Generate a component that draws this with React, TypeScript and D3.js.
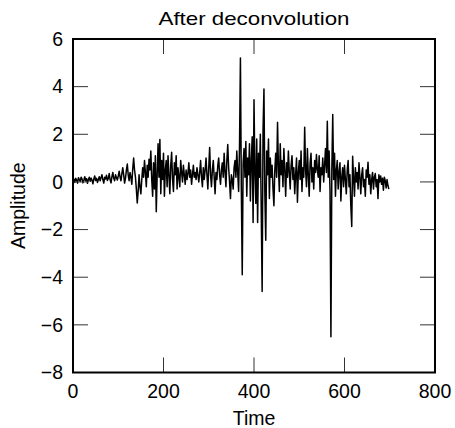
import React from "react";
import * as d3 from "d3";

const title = "After deconvolution";
const xLabel = "Time";
const yLabel = "Amplitude";
const xTicks = [0, 200, 400, 600, 800];
const yTicks = [-8, -6, -4, -2, 0, 2, 4, 6];
const timeStep = 2;
const amplitude: number[] = [
  0.05, 0.12, -0.02, 0.15, 0.08, -0.05, 0.18, 0.1, 0.02, 0.2,
  0.12, -0.04, 0.08, 0.22, 0.05, 0.14, -0.06, 0.1, 0.2, 0.03,
  0.16, 0.08, -0.08, 0.12, 0.25, 0.06, 0.15, -0.02, 0.1, 0.22,
  0.05, 0.18, 0.3, 0.1, -0.05, 0.2, 0.12, 0.28, 0.06, 0.15,
  0.35, 0.1, -0.04, 0.22, 0.4, 0.15, 0.05, 0.3, 0.18, 0.08,
  0.25, 0.45, 0.2, 0.05, 0.35, 0.6, 0.3, -0.05, 0.15, 0.5,
  0.75, 0.3, 0.05, 0.4, 0.2, -0.1, 0.55, 1.0, 0.5, 0.2,
  -0.3, -0.88, -0.4, 0.3, -0.2, -0.5, 0.1, 0.6, 0.2, 0.9,
  0.4, -0.2, 0.7, 0.2, 0.95, 0.5, 1.3, 0.1, -0.6, 0.8,
  -0.3, 1.1, -1.25, 0.3, 1.6, 0.2, 1.78, -0.5, 0.9, 0.1,
  1.2, -0.6, 0.5, 0.9, -0.2, 1.1, 0.3, -0.5, 0.7, 1.25,
  0.1, -0.4, 0.8, 0.3, 1.1, -0.3, 0.6, 0.2, -0.2, 0.9,
  0.4, 0.0, 0.7, 0.3, -0.1, 0.5, 0.1, 0.35, 0.8, 0.2,
  0.5, -0.1, 0.3, 0.7, 0.2, 0.4, 0.1, 0.6, 0.3, 0.0,
  0.4, 0.9, 0.2, -0.2, 0.6, 0.1, 0.5, 1.0, 0.3, -0.3,
  0.6, 1.45, 0.3, -0.2, 0.5, 0.9, 0.2, -0.5, 0.4, 0.1,
  0.7, 1.0, 0.3, -0.1, 0.5, 0.8, 0.2, 1.2, 0.4, -0.2,
  0.9, 1.57, 0.6, 0.0, -0.7, 0.3, 0.1, -0.3, 0.6, 0.9,
  0.2, 1.3, 0.4, -0.4, 1.5, 5.2, -0.3, -3.9, 0.8, 1.4,
  0.2, 1.7, -0.6, 1.0, 0.3, 1.6, -0.8, 0.9, 1.9, -1.7,
  3.45, 0.4, -0.9, 1.8, -1.7, 1.2, 0.2, 2.0, -1.2, -4.6,
  2.2, 3.9, -0.5, -2.45, 1.3, 0.3, 1.8, -0.7, 1.0, 0.2,
  0.7, -0.3, -1.0, 0.5, 1.2, 0.2, 2.5, 0.6, -0.4, 1.6,
  0.3, 0.9, -0.2, 1.4, 0.5, -0.6, 0.8, 0.2, 1.3, 0.4,
  -0.3, 0.7, 1.1, 0.1, 0.6, -0.5, 0.3, 1.0, -0.85, 0.4,
  0.9, 0.1, 1.3, -0.4, 0.6, 0.2, 2.3, 0.5, -0.2, 1.4,
  0.3, -0.6, 0.8, 1.2, 0.0, 0.6, -0.3, 0.9, 0.4, 1.15,
  0.5, 0.2, 1.1, -0.4, 0.6, 0.3, 1.0, 0.0, 0.7, 1.4,
  0.4, 2.55, 0.2, 1.3, -0.4, -6.5, 0.5, 2.83, 0.1, 1.2,
  -0.6, 0.5, 0.9, -0.3, 0.4, 0.8, -0.8, 0.2, 0.6, -0.2,
  0.7, 0.1, -0.5, 0.5, 0.9, -0.2, 0.3, -1.0, -1.87, 1.08,
  0.2, -0.6, 0.6, 0.0, 0.4, -0.3, 0.8, 0.2, -0.5, 0.3,
  0.6, -0.2, 0.1, -0.6, 0.5, 0.2, 0.83, -0.1, 0.3, -0.5,
  0.1, 0.4, -0.3, 0.2, 0.35, -0.2, 0.1, -0.7, 0.3, 0.0,
  0.25, -0.1, 0.15, -0.35, 0.2, 0.05, -0.25, 0.1, -0.15, -0.3,
];

const W = 455;
const H = 428;
const M = { left: 73, right: 435, top: 39, bottom: 372.5 };
const FONT = "'Liberation Sans', Arial, Helvetica, sans-serif";

export default function App() {
  const x = d3.scaleLinear().domain([0, 800]).range([M.left, M.right]);
  const y = d3.scaleLinear().domain([-8, 6]).range([M.bottom, M.top]);
  const line = d3
    .line<number>()
    .x((_, i) => x(i * timeStep))
    .y((d) => y(d));
  const tickLen = 15;
  return (
    <svg
      width={W}
      height={H}
      style={{ position: "absolute", left: 0, top: 0, background: "#fff" }}
      fontFamily={FONT}
    >
      <rect x={0} y={0} width={W} height={H} fill="#fff" />
      <path d={line(amplitude) || ""} fill="none" stroke="#000" strokeWidth={1.5} strokeLinejoin="round" />
      {xTicks.map((t) => (
        <g key={"x" + t}>
          <line x1={x(t)} x2={x(t)} y1={M.bottom} y2={M.bottom - tickLen} stroke="#333" strokeWidth={1} />
          <line x1={x(t)} x2={x(t)} y1={M.top} y2={M.top + tickLen} stroke="#333" strokeWidth={1} />
          <text x={x(t)} y={398} textAnchor="middle" fontSize={19.5}>
            {String(t)}
          </text>
        </g>
      ))}
      {yTicks.map((t) => (
        <g key={"y" + t}>
          <line x1={M.left} x2={M.left + tickLen} y1={y(t)} y2={y(t)} stroke="#333" strokeWidth={1} />
          <line x1={M.right} x2={M.right - tickLen} y1={y(t)} y2={y(t)} stroke="#333" strokeWidth={1} />
          <text x={63} y={y(t)} dy="0.35em" textAnchor="end" fontSize={19.5}>
            {t < 0 ? "\u2212" + Math.abs(t) : String(t)}
          </text>
        </g>
      ))}
      <rect
        x={M.left}
        y={M.top}
        width={M.right - M.left}
        height={M.bottom - M.top}
        fill="none"
        stroke="#000"
        strokeWidth={2}
      />
      <text x={(M.left + M.right) / 2} y={25} textAnchor="middle" fontSize={19} textLength={191} lengthAdjust="spacingAndGlyphs">
        {title}
      </text>
      <text x={(M.left + M.right) / 2} y={425} textAnchor="middle" fontSize={19.5}>
        {xLabel}
      </text>
      <text
        transform={`translate(25, ${(M.top + M.bottom) / 2}) rotate(-90)`}
        textAnchor="middle"
        fontSize={19.5}
      >
        {yLabel}
      </text>
    </svg>
  );
}
